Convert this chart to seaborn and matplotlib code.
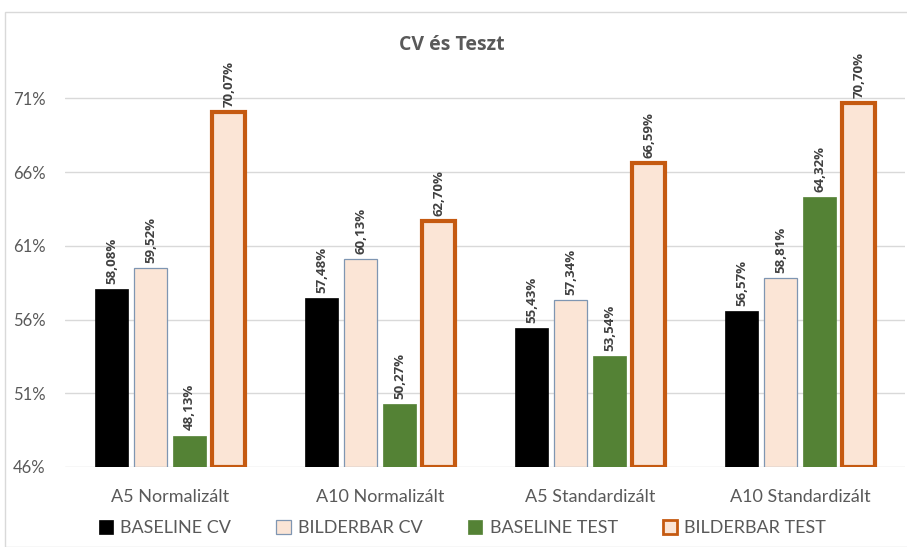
import pandas as pd
import numpy as np
import seaborn as sns
import matplotlib.pyplot as plt
from matplotlib.patches import Patch, Rectangle
from matplotlib.ticker import FuncFormatter

# data
categories = ["A5 Normalizált", "A10 Normalizált", "A5 Standardizált", "A10 Standardizált"]
series = ["BASELINE CV", "BILDERBAR CV", "BASELINE TEST", "BILDERBAR TEST"]
baseline_cv = [58.08, 57.48, 55.43, 56.57]
bilderbar_cv = [59.52, 60.13, 57.34, 58.81]
baseline_test = [48.13, 50.27, 53.54, 64.32]
bilderbar_test = [70.07, 62.70, 66.59, 70.70]
yticks = [46, 51, 56, 61, 66, 71]

fill = {"BASELINE CV": "#000000", "BILDERBAR CV": "#FBE5D6",
        "BASELINE TEST": "#548235", "BILDERBAR TEST": "#FBE5D6"}
edge = {"BASELINE CV": "#000000", "BILDERBAR CV": "#7F96B2",
        "BASELINE TEST": "#548235", "BILDERBAR TEST": "#C55A11"}
lw = {"BASELINE CV": 0.5, "BILDERBAR CV": 0.9, "BASELINE TEST": 0.5, "BILDERBAR TEST": 3.0}

df = pd.DataFrame({
    "cat": categories * 4,
    "series": np.repeat(series, 4),
    "value": baseline_cv + bilderbar_cv + baseline_test + bilderbar_test,
})

sns.set_style("white")
plt.rcParams['font.family'] = ['Lato', 'DejaVu Sans']
txt = "#595959"

fig = plt.figure(figsize=(9.07, 5.47), dpi=100)
ax = fig.add_axes([0.0717, 0.1463, 0.9263, 0.7437])
fig.patches.append(Rectangle((5 / 907, 0), 1, 1 - 12 / 547, transform=fig.transFigure,
                             fill=False, edgecolor="#D9D9D9", linewidth=1, zorder=0))

sns.barplot(data=df, x="cat", y="value", hue="series", hue_order=series,
            palette=fill, width=0.745, gap=0, ax=ax, legend=False, saturation=1)

bw = 0.157
for i, s in enumerate(series):
    cont = ax.containers[i]
    for p, v in zip(cont.patches, df[df.series == s]["value"]):
        cx = p.get_x() + p.get_width() / 2
        p.set_x(cx - bw / 2)
        p.set_width(bw)
        p.set_y(46)
        p.set_height(v - 46)
        p.set_edgecolor(edge[s])
        p.set_linewidth(lw[s])
        p.set_zorder(3)
        ax.text(cx, v + 0.35, f"{v:.2f}%".replace(".", ","), rotation=90,
                ha="center", va="bottom", fontsize=9.5, fontweight="bold",
                family=["Open Sans", "DejaVu Sans"], color="#404040", clip_on=False)

ax.set_ylim(46, 73.6)
ax.set_xlim(-0.5, 3.5)
ax.set_yticks(yticks)
ax.yaxis.set_major_formatter(FuncFormatter(lambda v, _: f"{v:.0f}%"))
ax.grid(axis="y", color="#D9D9D9", linewidth=1, zorder=0)
ax.set_axisbelow(True)
for sp in ax.spines.values():
    sp.set_visible(False)
ax.tick_params(axis="y", length=0, labelsize=12, labelcolor=txt, pad=14)
ax.tick_params(axis="x", length=0, labelsize=13, labelcolor=txt, pad=16)
ax.set_xlabel("")
ax.set_ylabel("")

fig.text(0.498, 0.918, "CV és Teszt", ha="center", va="center", fontsize=14,
         fontweight="bold", family=["Open Sans", "DejaVu Sans"], color=txt)

handles = [Patch(facecolor=fill[s], edgecolor=edge[s], linewidth=min(lw[s], 2.0)) for s in series]
fig.legend(handles, series, loc="center", bbox_to_anchor=(0.51, 0.035), ncol=4,
           frameon=False, fontsize=13, handlelength=0.8, handleheight=0.8,
           handletextpad=0.4, columnspacing=2.5, labelcolor=txt)

fig.savefig("out.png", dpi=100)
